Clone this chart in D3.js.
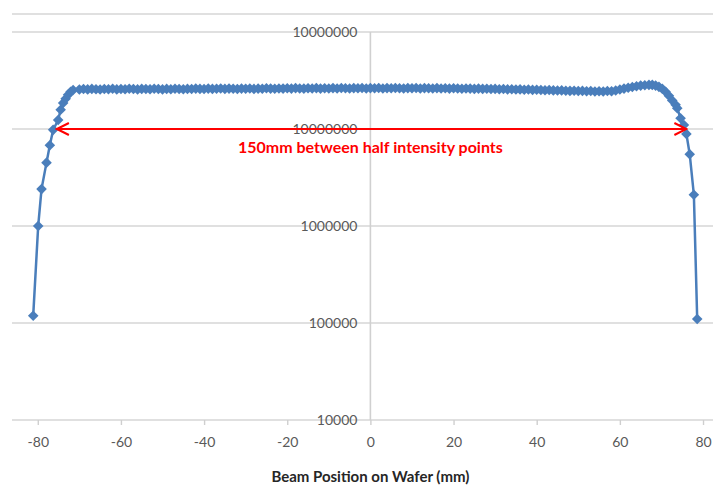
<!DOCTYPE html>
<html>
<head>
<meta charset="utf-8">
<script src="https://cdn.jsdelivr.net/npm/d3@7"></script>
<style>
  body { margin: 0; background: #fff; }
  svg { display: block; font-family: Lato, "Open Sans", sans-serif; }
  .grid line { stroke: #d6d6d6; stroke-width: 1.6; }
  .tickLabel { fill: #595959; font-size: 14px; }
</style>
</head>
<body>
<div id="chartdiv"></div>
<script>
//beam intensity profile across the wafer, log y axis

//sample positions (mm) and measured intensity
var positions = [
  -81.1, -79.9, -79.1, -77.9, -77.1, -76.3, -75.1, -74.5, -73.9, -73.3, -72.7, -72.1, -71.5,
  -70, -69, -68, -67, -66, -65, -64, -63, -62, -61,
  -60, -59, -58, -57, -56, -55, -54, -53, -52, -51,
  -50, -49, -48, -47, -46, -45, -44, -43, -42, -41,
  -40, -39, -38, -37, -36, -35, -34, -33, -32, -31,
  -30, -29, -28, -27, -26, -25, -24, -23, -22, -21,
  -20, -19, -18, -17, -16, -15, -14, -13, -12, -11,
  -10, -9, -8, -7, -6, -5, -4, -3, -2, -1,
  0, 1, 2, 3, 4, 5, 6, 7, 8, 9,
  10, 11, 12, 13, 14, 15, 16, 17, 18, 19,
  20, 21, 22, 23, 24, 25, 26, 27, 28, 29,
  30, 31, 32, 33, 34, 35, 36, 37, 38, 39,
  40, 41, 42, 43, 44, 45, 46, 47, 48, 49,
  50, 51, 52, 53, 54, 55, 56, 57, 58, 59,
  60, 61, 62, 63, 64, 65, 66,
  67.0, 67.8, 68.6, 69.4, 70.2, 71.0, 71.8, 72.6, 73.4, 73.8, 74.6, 75.4, 76.0, 76.8, 77.8, 78.6
];

var intensity = [
  1.19e5, 1.0e6, 2.4e6, 4.5e6, 6.8e6, 9.8e6, 1.24e7, 1.58e7, 1.85e7, 2.05e7, 2.25e7, 2.42e7, 2.52e7,
  2.55e7, 2.58e7, 2.56e7, 2.59e7, 2.57e7, 2.55e7, 2.58e7, 2.57e7, 2.60e7, 2.56e7,
  2.58e7, 2.57e7, 2.60e7, 2.58e7, 2.56e7, 2.59e7, 2.58e7, 2.57e7, 2.60e7, 2.58e7,
  2.56e7, 2.59e7, 2.57e7, 2.60e7, 2.58e7, 2.57e7, 2.59e7, 2.58e7, 2.61e7, 2.59e7,
  2.58e7, 2.61e7, 2.59e7, 2.60e7, 2.62e7, 2.59e7, 2.61e7, 2.60e7, 2.58e7, 2.61e7,
  2.60e7, 2.62e7, 2.59e7, 2.61e7, 2.60e7, 2.63e7, 2.61e7, 2.60e7, 2.62e7, 2.61e7,
  2.63e7, 2.61e7, 2.64e7, 2.62e7, 2.61e7, 2.63e7, 2.62e7, 2.64e7, 2.61e7, 2.63e7,
  2.62e7, 2.64e7, 2.62e7, 2.65e7, 2.63e7, 2.62e7, 2.64e7, 2.63e7, 2.65e7, 2.62e7,
  2.64e7, 2.63e7, 2.65e7, 2.62e7, 2.64e7, 2.63e7, 2.65e7, 2.63e7, 2.62e7, 2.64e7,
  2.63e7, 2.65e7, 2.62e7, 2.64e7, 2.63e7, 2.62e7, 2.64e7, 2.62e7, 2.63e7, 2.61e7,
  2.63e7, 2.62e7, 2.60e7, 2.62e7, 2.61e7, 2.59e7, 2.61e7, 2.59e7, 2.60e7, 2.58e7,
  2.59e7, 2.57e7, 2.58e7, 2.56e7, 2.57e7, 2.55e7, 2.56e7, 2.54e7, 2.55e7, 2.53e7,
  2.54e7, 2.52e7, 2.51e7, 2.52e7, 2.50e7, 2.49e7, 2.50e7, 2.48e7, 2.47e7, 2.48e7,
  2.46e7, 2.47e7, 2.45e7, 2.46e7, 2.44e7, 2.45e7, 2.44e7, 2.46e7, 2.45e7, 2.49e7,
  2.55e7, 2.61e7, 2.66e7, 2.71e7, 2.76e7, 2.80e7, 2.83e7,
  2.85e7, 2.85e7, 2.80e7, 2.72e7, 2.60e7, 2.42e7, 2.20e7, 1.97e7, 1.78e7, 1.64e7, 1.29e7, 1.1e7, 8.9e6, 5.5e6, 2.1e6, 1.1e5
];

var xTicks = [-80, -60, -40, -20, 0, 20, 40, 60, 80];
var yTicks = [1e4, 1e5, 1e6, 1e7, 1e8];
var yTickLabels = ["10000", "100000", "1000000", "10000000", "10000000"];

//annotation: arrow between the half intensity points
var arrowEnds = [-75.4, 76.0];
var arrowLevel = 1e7;
var arrowText = "150mm between half intensity points";
var xTitle = "Beam Position on Wafer (mm)";

var width = 713, height = 501;
var plotLeft = 12, plotRight = 713, plotTop = 14;

var svg = d3.select("#chartdiv")
    .append("svg")
    .attr("width", width)
    .attr("height", height);

var x = d3.scaleLinear()
    .domain([-86.2, 82.4])
    .range([plotLeft, plotRight]);

var y = d3.scaleLog()
    .domain([1e4, 1e8])
    .range([420, 32]);

//frame line at top of plot area
svg.append("line")
    .attr("x1", plotLeft).attr("x2", plotRight)
    .attr("y1", plotTop).attr("y2", plotTop)
    .attr("stroke", "#d6d6d6")
    .attr("stroke-width", 1.6);

//horizontal gridlines
svg.append("g")
    .attr("class", "grid")
    .selectAll("line")
    .data(yTicks)
    .enter()
    .append("line")
    .attr("x1", plotLeft)
    .attr("x2", plotRight)
    .attr("y1", function(d){ return y(d); })
    .attr("y2", function(d){ return y(d); });

//vertical axis at x = 0
svg.append("line")
    .attr("x1", x(0)).attr("x2", x(0))
    .attr("y1", y(1e8)).attr("y2", y(1e4))
    .attr("stroke", "#d0d0d0")
    .attr("stroke-width", 1.6);

//x axis
var xAxis = svg.append("g")
    .attr("transform", "translate(0," + y(1e4) + ")")
    .call(d3.axisBottom(x).tickValues(xTicks).tickSize(5).tickPadding(12));
xAxis.select(".domain").remove();
xAxis.selectAll(".tick line").attr("stroke", "#cfcfcf").attr("stroke-width", 1.4);
xAxis.selectAll(".tick text")
    .attr("fill", "#595959")
    .style("font-size", "14px")
    .style("font-family", "Lato, sans-serif")
    .text(function(d){ return d < 0 ? "-" + Math.abs(d) : d; });

//y tick labels sit left of the vertical axis
svg.selectAll(".yLabel")
    .data(yTicks)
    .enter()
    .append("text")
    .attr("class", "yLabel tickLabel")
    .attr("x", x(0) - 13)
    .attr("y", function(d){ return y(d); })
    .attr("dy", "0.35em")
    .attr("text-anchor", "end")
    .text(function(d, i){ return yTickLabels[i]; });

//data line
var data = positions.map(function(p, i){ return [p, intensity[i]]; });

var line = d3.line()
    .x(function(d){ return x(d[0]); })
    .y(function(d){ return y(d[1]); });

svg.append("path")
    .datum(data)
    .attr("fill", "none")
    .attr("stroke", "#4a7ebb")
    .attr("stroke-width", 2.5)
    .attr("d", line);

//diamond markers
var diamond = d3.symbol().type(d3.symbolSquare).size(56);
svg.selectAll(".marker")
    .data(data)
    .enter()
    .append("path")
    .attr("class", "marker")
    .attr("d", diamond)
    .attr("transform", function(d){
        return "translate(" + x(d[0]) + "," + y(d[1]) + ") rotate(45)";
    })
    .attr("fill", "#4a7ebb");

//red double arrow
svg.append("defs")
    .append("marker")
    .attr("id", "arrowhead")
    .attr("viewBox", "-14 -8 16 16")
    .attr("refX", 0)
    .attr("refY", 0)
    .attr("markerWidth", 16)
    .attr("markerHeight", 16)
    .attr("markerUnits", "userSpaceOnUse")
    .attr("orient", "auto-start-reverse")
    .append("path")
    .attr("d", "M-12,-6 L0,0 L-12,6")
    .attr("fill", "none")
    .attr("stroke", "#ff0000")
    .attr("stroke-width", 2);

svg.append("line")
    .attr("x1", x(arrowEnds[0]))
    .attr("x2", x(arrowEnds[1]))
    .attr("y1", y(arrowLevel))
    .attr("y2", y(arrowLevel))
    .attr("stroke", "#ff0000")
    .attr("stroke-width", 2)
    .attr("marker-start", "url(#arrowhead)")
    .attr("marker-end", "url(#arrowhead)");

svg.append("text")
    .attr("x", x(0))
    .attr("y", y(arrowLevel) + 18)
    .attr("dy", "0.35em")
    .attr("text-anchor", "middle")
    .attr("fill", "#ff0000")
    .style("font-size", "16px")
    .style("font-weight", "bold")
    .text(arrowText);

//x axis title
svg.append("text")
    .attr("x", x(0))
    .attr("y", 477)
    .attr("dy", "0.35em")
    .attr("text-anchor", "middle")
    .attr("fill", "#262626")
    .style("font-size", "15px")
    .style("font-weight", "bold")
    .text(xTitle);
</script>
</body>
</html>
